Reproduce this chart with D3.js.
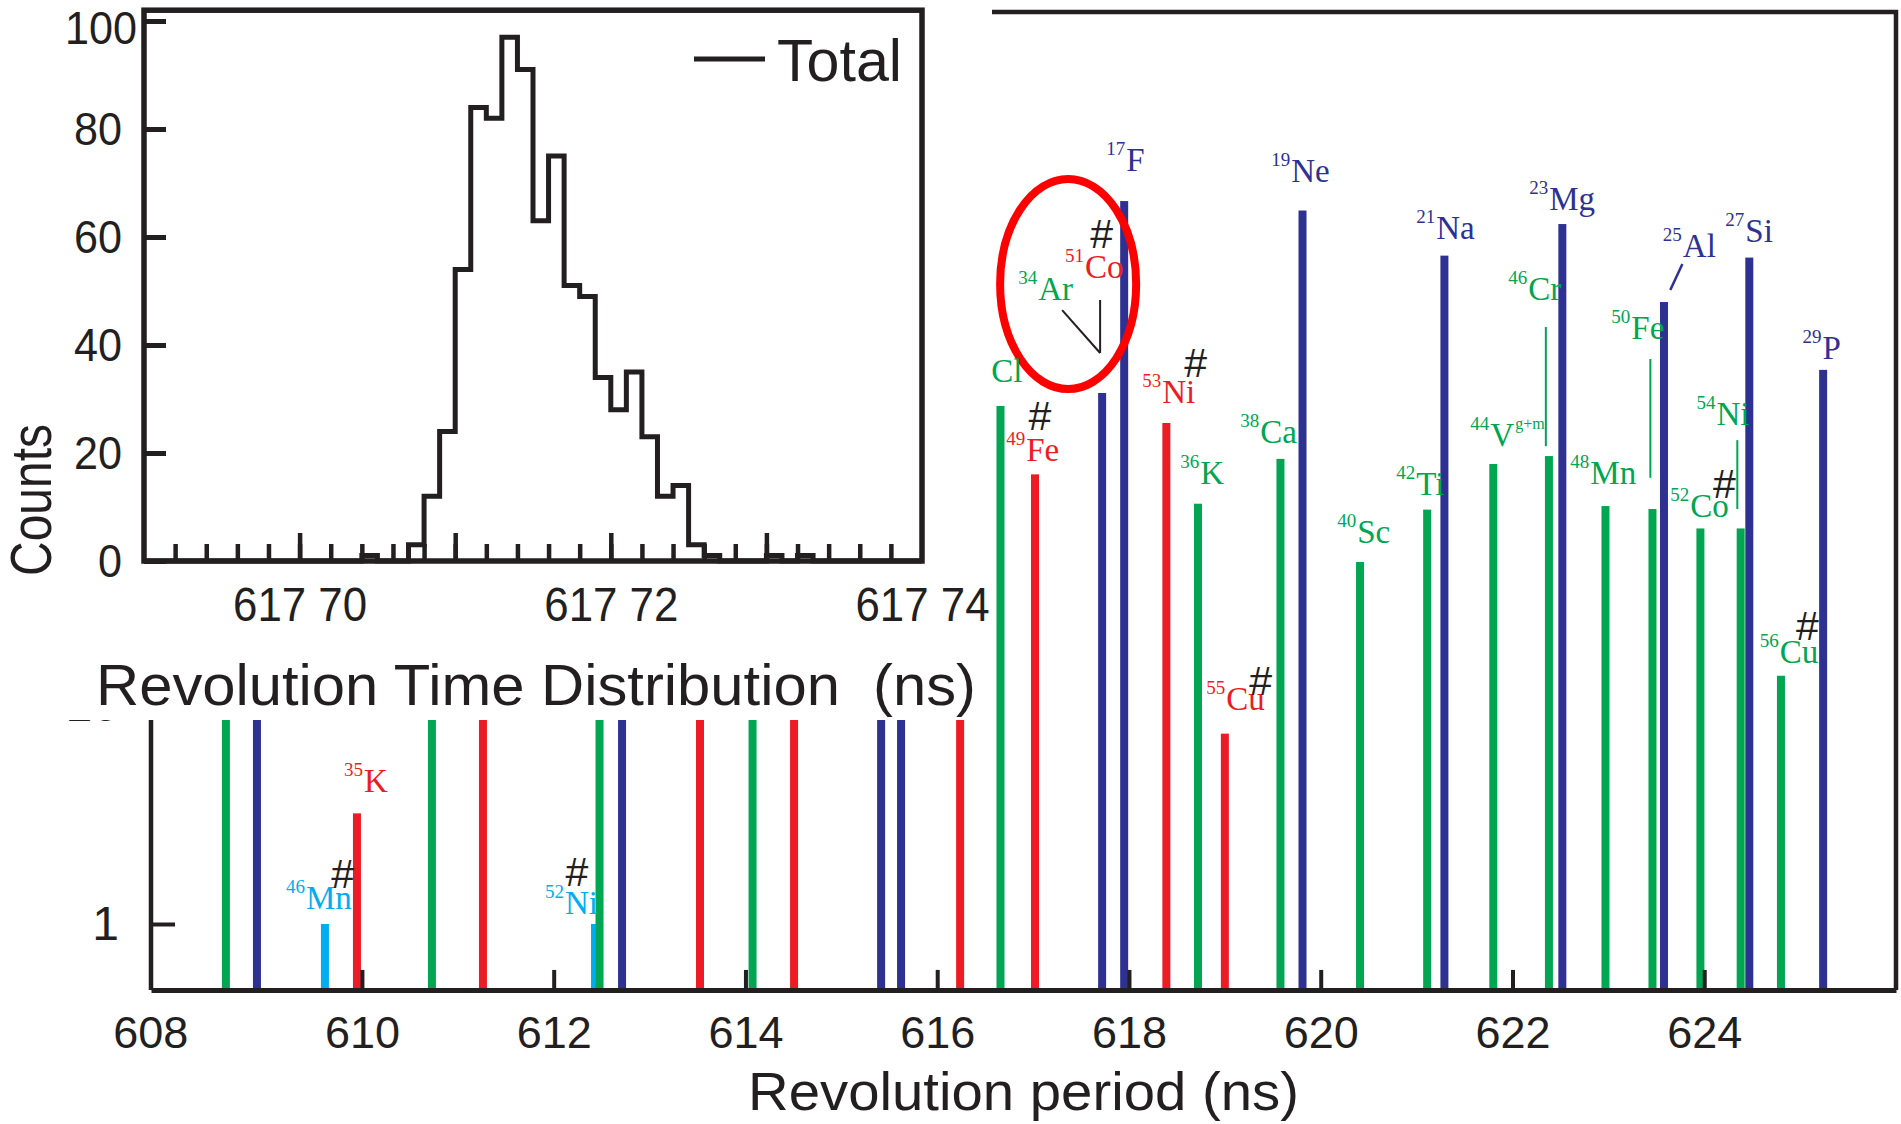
<!DOCTYPE html>
<html>
<head>
<meta charset="utf-8">
<script src="https://cdn.jsdelivr.net/npm/d3@7"></script>
<style>
  html, body { margin: 0; background: #fff; }
  svg { display: block; }
</style>
</head>
<body>
<div id="chart"></div>
<script>
  // ---- main spectrum: revolution period (ns), counts, T_z group ----
  // b = T_z -1/2 (blue), g = T_z -1 (green), r = T_z -3/2 (red), c = T_z -2 (cyan)
  const barPeriods = [608.581, 608.905, 609.614, 609.948, 610.730, 611.262, 612.431, 612.478, 612.713,
    613.526, 614.074, 614.507, 615.415, 615.623, 616.239,
    616.66, 617.02, 617.72, 617.95, 618.39, 618.72, 619.00, 619.58, 619.81, 620.41, 621.11, 621.29,
    621.80, 622.38, 622.52, 622.97, 623.46, 623.58, 623.96, 624.38, 624.47, 624.80, 625.24];
  const barCounts = [500, 800, 1, 3.2, 600, 150, 1, 400, 900,
    120, 300, 100, 1000, 700, 90,
    232, 113, 266, 2000, 194, 83, 7.4, 133, 1811, 45, 78, 1127,
    126, 137, 1571, 81, 78.5, 692, 64, 64, 1104, 13.6, 339];
  const barGroups = ['g', 'b', 'c', 'r', 'g', 'r', 'c', 'g', 'b',
    'r', 'g', 'r', 'b', 'b', 'r',
    'g', 'r', 'b', 'b', 'r', 'g', 'r', 'g', 'b', 'g', 'g', 'b',
    'g', 'g', 'b', 'g', 'g', 'b', 'g', 'g', 'b', 'g', 'b'];

  // isotope labels, anchored in data units (period, counts)
  const isoLabels = [
    { mass: '32', sym: 'Cl', grp: 'g', t: 616.355, c: 299 },
    { mass: '49', sym: 'Fe', grp: 'r', t: 616.719, c: 130 },
    { mass: '34', sym: 'Ar', grp: 'g', t: 616.844, c: 707 },
    { mass: '51', sym: 'Co', grp: 'r', t: 617.334, c: 891 },
    { mass: '17', sym: 'F', grp: 'b', t: 617.762, c: 2743 },
    { mass: '19', sym: 'Ne', grp: 'b', t: 619.484, c: 2445 },
    { mass: '53', sym: 'Ni', grp: 'r', t: 618.138, c: 239 },
    { mass: '36', sym: 'K', grp: 'g', t: 618.534, c: 102 },
    { mass: '38', sym: 'Ca', grp: 'g', t: 619.160, c: 157 },
    { mass: '40', sym: 'Sc', grp: 'g', t: 620.172, c: 55 },
    { mass: '42', sym: 'Ti', grp: 'g', t: 620.788, c: 91 },
    { mass: '21', sym: 'Na', grp: 'b', t: 620.996, c: 1343 },
    { mass: '23', sym: 'Mg', grp: 'b', t: 622.175, c: 1821 },
    { mass: '46', sym: 'Cr', grp: 'g', t: 621.956, c: 707 },
    { mass: '44', sym: 'V', grp: 'g', t: 621.560, c: 152, extra: 'g+m' },
    { mass: '48', sym: 'Mn', grp: 'g', t: 622.603, c: 102 },
    { mass: '50', sym: 'Fe', grp: 'g', t: 623.031, c: 469 },
    { mass: '25', sym: 'Al', grp: 'b', t: 623.568, c: 1111 },
    { mass: '27', sym: 'Si', grp: 'b', t: 624.220, c: 1300 },
    { mass: '54', sym: 'Ni', grp: 'g', t: 623.918, c: 189 },
    { mass: '52', sym: 'Co', grp: 'g', t: 623.646, c: 72 },
    { mass: '29', sym: 'P', grp: 'b', t: 625.024, c: 380 },
    { mass: '55', sym: 'Cu', grp: 'r', t: 618.805, c: 9.5 },
    { mass: '56', sym: 'Cu', grp: 'g', t: 624.580, c: 15.5 },
    { mass: '35', sym: 'K', grp: 'r', t: 609.812, c: 4.0 },
    { mass: '46', sym: 'Mn', grp: 'c', t: 609.207, c: 1.17 },
    { mass: '52', sym: 'Ni', grp: 'c', t: 611.909, c: 1.11 }
  ];

  // "#" marks (centre period, baseline counts)
  const hashPeriods = [617.07, 617.714, 618.696, 624.21, 619.374, 625.076, 609.80, 612.243];
  const hashCounts = [180, 1221, 315, 88.6, 11.1, 19.9, 1.46, 1.49];

  // leader lines
  const leaders = [
    { grp: 'k', t1: 617.303, c1: 636, t2: 617.699, c2: 405 },
    { grp: 'k', t1: 617.699, c1: 707, t2: 617.699, c2: 405 },
    { grp: 'g', t1: 622.348, c1: 532, t2: 622.348, c2: 152 },
    { grp: 'g', t1: 623.438, c1: 380, t2: 623.438, c2: 109 },
    { grp: 'g', t1: 624.345, c1: 162, t2: 624.345, c2: 78.5 },
    { grp: 'b', t1: 623.772, c1: 1032, t2: 623.646, c2: 785 }
  ];

  // red ellipse round 34Ar / 51Co: period and counts extent
  const ringPeriods = [616.656, 618.075];
  const ringCounts = [277, 2523];

  const mainTicks = [608, 610, 612, 614, 616, 618, 620, 622, 624];
  const mainYTicks = [1, 10];

  // ---- inset: revolution time histogram of 51Co / 34Ar ----
  const histStart = 617.704;   // left edge of first bin, bin width 0.001 ns
  const histWidth = 0.001;
  const histCounts = [1, 0, 0, 3, 12, 24, 54, 84, 82, 97, 91, 63, 75, 51, 49, 34, 28, 35, 23, 12, 14, 3, 1, 0, 0, 0, 1, 0, 1];
  const insetYTicks = [0, 20, 40, 60, 80, 100];
  const insetXLabelValues = [617.70, 617.72, 617.74];
  const insetXLabels = ['617 70', '617 72', '617 74'];

  const colors = { b: '#2e3192', g: '#00a651', r: '#ed1c24', c: '#00aeef', k: '#231f20' };
  const INK = '#231f20';
  const SANS = '"Liberation Sans", Arial, sans-serif';
  const SERIF = '"Liberation Serif", "Times New Roman", serif';

  const W = 1901, H = 1124;
  const svg = d3.select('#chart').append('svg')
    .attr('width', W).attr('height', H)
    .attr('viewBox', `0 0 ${W} ${H}`);
  svg.append('rect').attr('width', W).attr('height', H).attr('fill', '#fff');

  // ---------- main plot ----------
  const x = d3.scaleLinear().domain([607.8, 626.0]).range([151, 1896]);
  const y = d3.scaleLog().domain([1, 10]).range([924, 705]); // extended past the domain
  const yBase = y(0.5);
  const yTop = 12;

  const main = svg.append('g');

  main.selectAll('rect.bar')
    .data(barPeriods.map((t, i) => ({ t, c: barCounts[i], grp: barGroups[i] })))
    .enter().append('rect')
    .attr('class', 'bar')
    .attr('x', d => x(d.t) - 4)
    .attr('width', 8)
    .attr('y', d => y(d.c))
    .attr('height', d => yBase - y(d.c))
    .attr('fill', d => colors[d.grp]);

  main.selectAll('line.leader')
    .data(leaders)
    .enter().append('line')
    .attr('x1', d => x(d.t1)).attr('y1', d => y(d.c1))
    .attr('x2', d => x(d.t2)).attr('y2', d => y(d.c2))
    .attr('stroke', d => colors[d.grp])
    .attr('stroke-width', d => d.grp === 'b' ? 2.5 : 2);

  const rx0 = x(ringPeriods[0]), rx1 = x(ringPeriods[1]);
  const ry0 = y(ringCounts[1]), ry1 = y(ringCounts[0]);
  main.append('ellipse')
    .attr('cx', (rx0 + rx1) / 2).attr('cy', (ry0 + ry1) / 2)
    .attr('rx', (rx1 - rx0) / 2).attr('ry', (ry1 - ry0) / 2)
    .attr('fill', 'none').attr('stroke', '#ff0000').attr('stroke-width', 8);

  isoLabels.forEach(d => {
    const t = main.append('text')
      .attr('x', x(d.t)).attr('y', y(d.c))
      .attr('fill', colors[d.grp])
      .style('font-family', SERIF);
    t.append('tspan').attr('font-size', 19).attr('dy', -16).text(d.mass);
    t.append('tspan').attr('font-size', 33).attr('dy', 16).attr('dx', 1).text(d.sym);
    if (d.extra) t.append('tspan').attr('font-size', 16).attr('dy', -17).attr('dx', 1).text(d.extra);
  });

  main.selectAll('text.hash')
    .data(hashPeriods.map((t, i) => ({ t, c: hashCounts[i] })))
    .enter().append('text')
    .attr('class', 'hash')
    .attr('x', d => x(d.t)).attr('y', d => y(d.c))
    .attr('text-anchor', 'middle')
    .attr('font-size', 41)
    .style('font-family', SANS)
    .attr('fill', INK)
    .text('#');

  // frame
  main.append('path')
    .attr('d', `M${x.range()[0]},${yBase} V${yTop} H${x.range()[1]} V${yBase}`)
    .attr('fill', 'none').attr('stroke', INK).attr('stroke-width', 4.5);

  const xAxis = main.append('g')
    .attr('transform', `translate(0,${yBase})`)
    .call(d3.axisBottom(x).tickValues(mainTicks).tickSizeInner(-20).tickSizeOuter(0).tickPadding(26).tickFormat(d3.format('d')));
  xAxis.select('.domain').attr('stroke', INK).attr('stroke-width', 5);
  xAxis.selectAll('.tick line').attr('stroke', INK).attr('stroke-width', 4)
    .filter(d => d === 608).remove(); // corner, no tick mark drawn there
  xAxis.selectAll('.tick text')
    .attr('fill', INK).attr('font-size', 45).style('font-family', SANS)
    .attr('dx', d => d === 608 ? -20 : 0); // first label sits on the axis corner in the original

  const yAxis = main.append('g')
    .attr('transform', `translate(${x.range()[0]},0)`)
    .call(d3.axisLeft(y).tickValues(mainYTicks).tickSizeInner(-24).tickSizeOuter(0).tickPadding(32).tickFormat(d3.format('d')));
  yAxis.select('.domain').remove();
  yAxis.selectAll('.tick line').attr('stroke', INK).attr('stroke-width', 4);
  yAxis.selectAll('.tick text').attr('fill', INK).attr('font-size', 48).style('font-family', SANS);

  main.append('text')
    .attr('x', 748).attr('y', 1110)
    .attr('font-size', 53).attr('fill', INK).style('font-family', SANS)
    .attr('textLength', 551).attr('lengthAdjust', 'spacingAndGlyphs')
    .text('Revolution period (ns)');

  // white panel that the inset sits on
  svg.append('rect').attr('x', 0).attr('y', 0).attr('width', 992).attr('height', 720).attr('fill', '#fff');

  // ---------- inset ----------
  const xi = d3.scaleLinear().domain([617.69, 617.74]).range([144, 922]);
  const yi = d3.scaleLinear().domain([0, 100]).range([561, 21]);
  const inset = svg.append('g');

  const histPts = [{ t: xi.domain()[0], c: 0 }];
  histCounts.forEach((c, i) => histPts.push({ t: histStart + i * histWidth, c }));
  histPts.push({ t: histStart + histCounts.length * histWidth, c: 0 });
  histPts.push({ t: xi.domain()[1], c: 0 });

  inset.append('path')
    .datum(histPts)
    .attr('d', d3.line().x(d => xi(d.t)).y(d => yi(d.c)).curve(d3.curveStepAfter))
    .attr('fill', 'none').attr('stroke', INK).attr('stroke-width', 5)
    .attr('stroke-linejoin', 'miter');

  const minorTicks = d3.range(1, 25).map(i => xi.domain()[0] + i * 0.002);
  const majorTicks = [617.70, 617.71, 617.72, 617.73];

  const minorAx = inset.append('g').attr('transform', `translate(0,${yi(0)})`)
    .call(d3.axisBottom(xi).tickValues(minorTicks).tickSizeInner(-17).tickSizeOuter(0).tickFormat(''));
  const majorAx = inset.append('g').attr('transform', `translate(0,${yi(0)})`)
    .call(d3.axisBottom(xi).tickValues(majorTicks).tickSizeInner(-28).tickSizeOuter(0).tickFormat(''));
  [minorAx, majorAx].forEach(a => {
    a.select('.domain').remove();
    a.selectAll('.tick line').attr('stroke', INK).attr('stroke-width', 4.5);
  });

  const labelAx = inset.append('g').attr('transform', `translate(0,${yi(0)})`)
    .call(d3.axisBottom(xi).tickValues(insetXLabelValues).tickSize(0).tickPadding(26)
      .tickFormat((d, i) => insetXLabels[i]));
  labelAx.select('.domain').remove();
  labelAx.selectAll('.tick text')
    .attr('fill', INK).attr('font-size', 48).style('font-family', SANS)
    .attr('textLength', 134).attr('lengthAdjust', 'spacingAndGlyphs');

  const yiAx = inset.append('g').attr('transform', `translate(${xi.range()[0]},0)`)
    .call(d3.axisLeft(yi).tickValues(insetYTicks).tickSizeInner(-22).tickSizeOuter(0).tickPadding(22));
  yiAx.select('.domain').remove();
  yiAx.selectAll('.tick line').attr('stroke', INK).attr('stroke-width', 5);
  yiAx.selectAll('.tick text')
    .attr('fill', INK).attr('font-size', 47).style('font-family', SANS)
    .attr('dx', d => d === 100 ? 15 : 0)
    .attr('y', d => d === 100 ? 7 : 0) // top label drawn a little low in the original
    .attr('textLength', d => String(d).length * 24).attr('lengthAdjust', 'spacingAndGlyphs');

  // inset frame
  inset.append('rect')
    .attr('x', xi.range()[0]).attr('y', yi(102))
    .attr('width', xi.range()[1] - xi.range()[0])
    .attr('height', yi(0) - yi(102))
    .attr('fill', 'none').attr('stroke', INK).attr('stroke-width', 5.5);

  // legend
  inset.append('line')
    .attr('x1', 694).attr('x2', 765).attr('y1', 59).attr('y2', 59)
    .attr('stroke', INK).attr('stroke-width', 5);
  inset.append('text')
    .attr('x', 777).attr('y', 81)
    .attr('font-size', 60).attr('fill', INK).style('font-family', SANS)
    .attr('textLength', 125).attr('lengthAdjust', 'spacingAndGlyphs')
    .text('Total');

  inset.append('text')
    .attr('transform', 'translate(51,500) rotate(-90)')
    .attr('text-anchor', 'middle')
    .attr('font-size', 57).attr('fill', INK).style('font-family', SANS)
    .attr('textLength', 152).attr('lengthAdjust', 'spacingAndGlyphs')
    .text('Counts');

  inset.append('text')
    .attr('x', 96).attr('y', 705)
    .attr('font-size', 58).attr('fill', INK).style('font-family', SANS)
    .style('white-space', 'pre')
    .attr('textLength', 880).attr('lengthAdjust', 'spacingAndGlyphs')
    .text('Revolution Time Distribution  (ns)');
</script>
</body>
</html>
